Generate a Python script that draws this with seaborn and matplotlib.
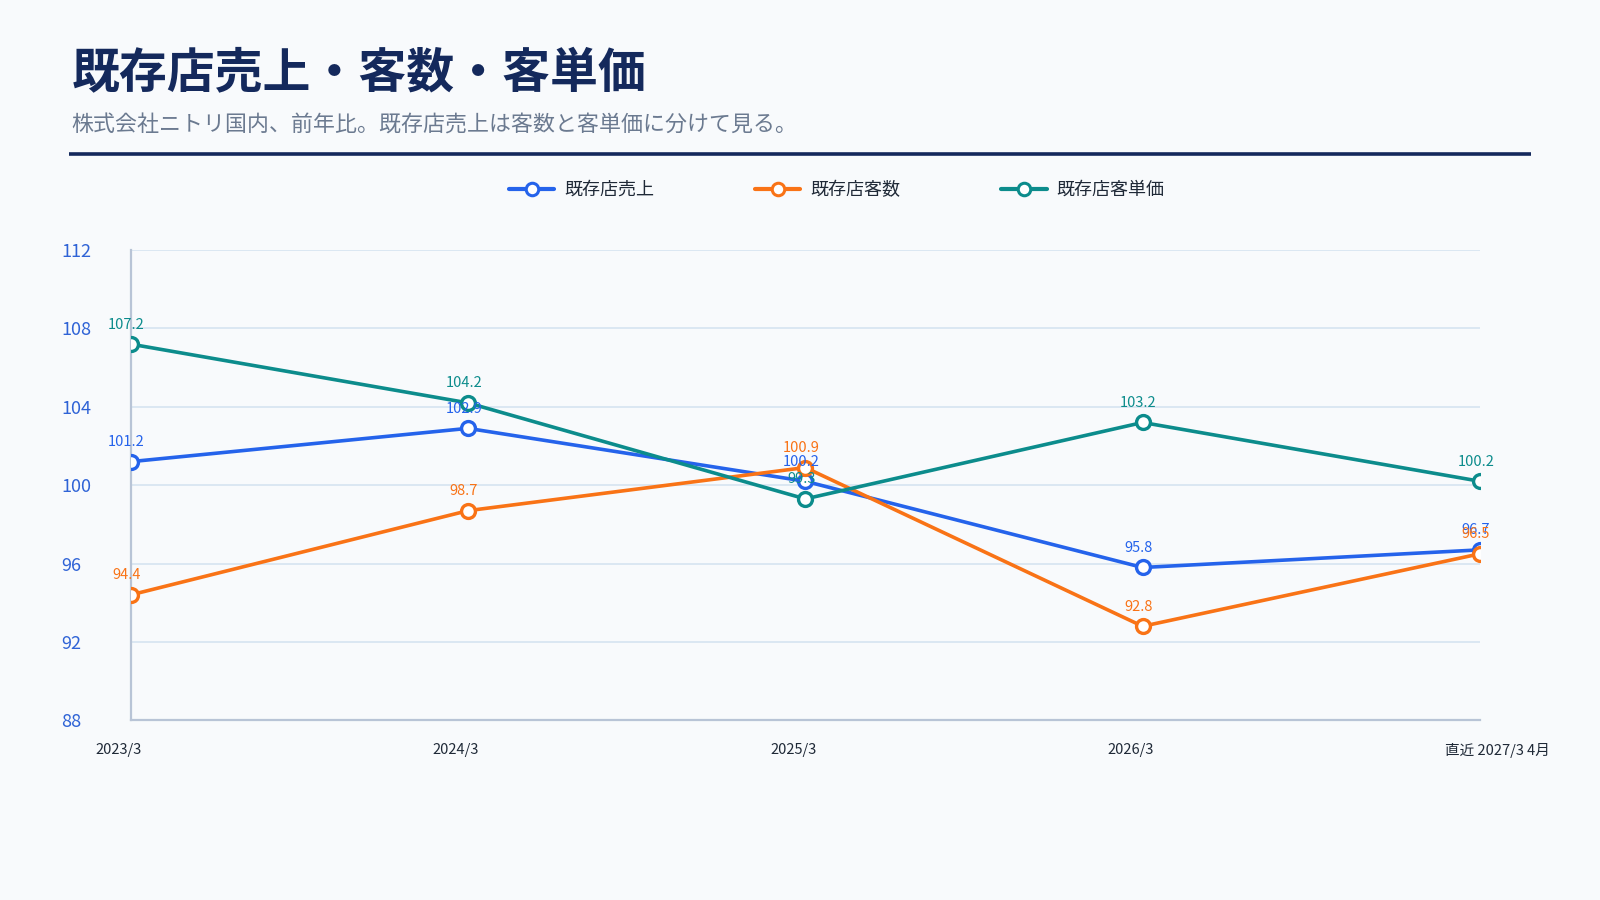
import matplotlib
matplotlib.use("Agg")
import matplotlib.pyplot as plt
import matplotlib.transforms as mtransforms
import seaborn as sns
import pandas as pd
from matplotlib.lines import Line2D

periods = ["2023/3", "2024/3", "2025/3", "2026/3", "直近 2027/3 4月"]
sales = [101.2, 102.9, 100.2, 95.8, 96.7]
customers = [94.4, 98.7, 100.9, 92.8, 96.5]
unit_price = [107.2, 104.2, 99.3, 103.2, 100.2]
series_names = ["既存店売上", "既存店客数", "既存店客単価"]
y_ticks = [88, 92, 96, 100, 104, 108, 112]

colors = ["#2563eb", "#f97316", "#0c8c8c"]
BG = "#f8fafc"

sns.set_theme(style="white")
plt.rcParams["font.family"] = ["Noto Sans CJK JP", "DejaVu Sans"]

fig = plt.figure(figsize=(16, 9), dpi=100, facecolor=BG)
ax = fig.add_axes([0.0816, 0.1996, 0.8434, 0.5226])
ax.set_facecolor(BG)

df = pd.DataFrame({
    "idx": list(range(len(periods))) * 3,
    "value": sales + customers + unit_price,
    "series": sum([[n] * len(periods) for n in series_names], []),
})

for name, col in zip(series_names, colors):
    sub = df[df["series"] == name]
    sns.lineplot(data=sub, x="idx", y="value", ax=ax, color=col, lw=2.6,
                 marker="o", markersize=10, markerfacecolor="white",
                 markeredgecolor=col, markeredgewidth=2.4, legend=False, zorder=3)
    for xi, yi in zip(sub["idx"], sub["value"]):
        ax.annotate(f"{yi:.1f}", (xi, yi), xytext=(-3, 9), textcoords="offset points",
                    ha="center", va="bottom", fontsize=10.5, color=col, zorder=4)

ax.set_xlim(0, len(periods) - 1)
ax.set_ylim(88, 112)
ax.set_yticks(y_ticks)
ax.set_yticklabels([str(t) for t in y_ticks])
for t in y_ticks[1:]:
    ax.axhline(t, color="#d8e5f2", lw=1.3, zorder=1)
ax.set_xticks(range(len(periods)))
ax.set_xticklabels(periods)
ax.tick_params(axis="y", length=0, pad=50, labelsize=13, labelcolor="#2f63d6")
ax.tick_params(axis="x", length=0, pad=16, labelsize=10.5, labelcolor="#1f2937")
for lab in ax.get_yticklabels():
    lab.set_horizontalalignment("left")
shift = mtransforms.ScaledTranslation(-35 / 100, 0, fig.dpi_scale_trans)
for lab in ax.get_xticklabels():
    lab.set_horizontalalignment("left")
    lab.set_transform(lab.get_transform() + shift)
ax.set_xlabel("")
ax.set_ylabel("")
for s in ["top", "right"]:
    ax.spines[s].set_visible(False)
for s in ["left", "bottom"]:
    ax.spines[s].set_color("#b8c4d6")
    ax.spines[s].set_linewidth(1.6)

fig.text(0.0446, 0.918, "既存店売上・客数・客単価", fontsize=34.5, fontweight="bold",
         color="#14295c", va="center", ha="left")
fig.text(0.0446, 0.861, "株式会社ニトリ国内、前年比。既存店売上は客数と客単価に分けて見る。",
         fontsize=15.8, color="#6b7a90", va="center", ha="left")
fig.add_artist(Line2D([0.0434, 0.9566], [0.829, 0.829], color="#14295c", lw=2.6,
                      solid_capstyle="butt", transform=fig.transFigure))

handles = [Line2D([0], [0], color=c, lw=3, marker="o", markersize=9,
                  markerfacecolor="white", markeredgecolor=c, markeredgewidth=2.2)
           for c in colors]
fig.legend(handles, series_names, loc="center", bbox_to_anchor=(0.523, 0.789), ncol=3,
           frameon=False, fontsize=13, handlelength=2.5, handletextpad=0.55,
           columnspacing=5.6, labelcolor="#1f2937")

fig.savefig("out.png", dpi=100, facecolor=BG)
